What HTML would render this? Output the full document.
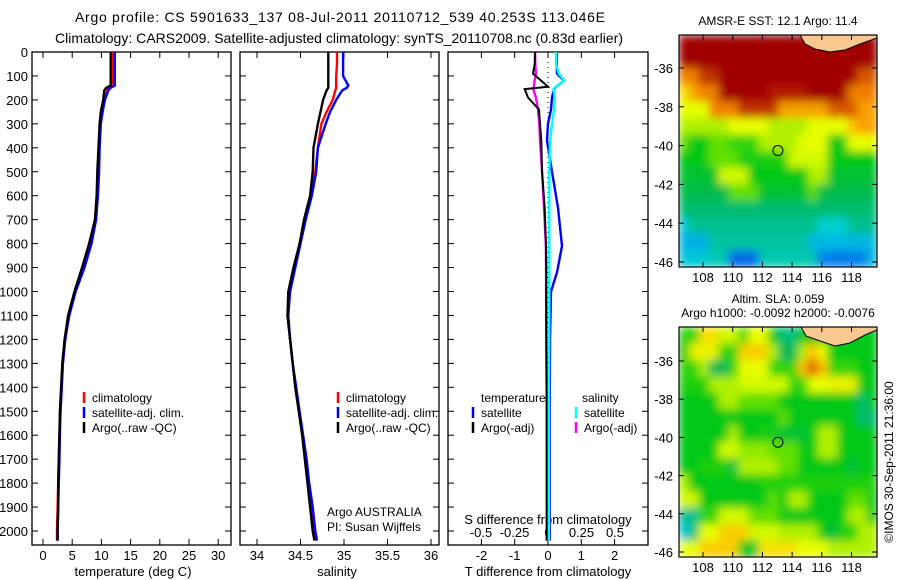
<!DOCTYPE html>
<html><head><meta charset="utf-8">
<style>
html,body{margin:0;padding:0;background:#fff;}
svg{display:block;font-family:"Liberation Sans",sans-serif;}
text{fill:#000;}
</style></head>
<body>
<svg id="fig" width="900" height="580" viewBox="0 0 900 580" xmlns="http://www.w3.org/2000/svg">
<defs>
<filter id="smooth" x="0" y="0" width="1" height="1"><feGaussianBlur stdDeviation="4.5" edgeMode="duplicate"/></filter>
<clipPath id="clipTop"><rect x="679" y="35" width="198" height="232"/></clipPath>
<clipPath id="clipBot"><rect x="679" y="327" width="198" height="230"/></clipPath>
</defs>
<text x="340" y="22" font-size="14" text-anchor="middle" textLength="530">Argo profile: CS 5901633_137 08-Jul-2011 20110712_539 40.253S 113.046E</text>
<text x="339" y="43" font-size="14" text-anchor="middle" textLength="568">Climatology: CARS2009. Satellite-adjusted climatology: synTS_20110708.nc (0.83d earlier)</text>
<g id="g"></g>
</svg>
<script>
// ---------- data ----------
const depthTS = [0,50,100,140,150,160,200,250,300,400,500,600,700,800,900,1000,1100,1200,1300,1400,1500,1600,1700,1800,1900,2000,2040];
const argoT = [11.6,11.6,11.6,11.6,10.8,10.5,10.3,9.9,9.7,9.5,9.3,9.2,8.9,7.9,6.7,5.4,4.3,3.7,3.3,3.1,2.9,2.8,2.7,2.6,2.6,2.5,2.5];
const climT = [12.0,12.0,12.0,12.0,11.4,11.0,10.5,10.0,9.8,9.6,9.4,9.2,8.9,8.0,6.9,5.5,4.4,3.8,3.4,3.2,3.0,2.8,2.7,2.6,2.5,2.4,2.4];
const satT = [12.3,12.3,12.3,12.3,11.6,11.2,10.6,10.2,9.9,9.7,9.6,9.4,9.1,8.3,7.1,5.6,4.5,3.8,3.4,3.2,3.0,2.9,2.8,2.7,2.6,2.5,2.5];
const argoS = [34.82,34.82,34.82,34.82,34.82,34.8,34.76,34.73,34.70,34.65,34.64,34.61,34.54,34.49,34.42,34.36,34.35,34.38,34.41,34.44,34.48,34.52,34.55,34.58,34.61,34.64,34.66];
const climS = [34.92,34.92,34.91,34.91,34.91,34.9,34.87,34.80,34.74,34.70,34.67,34.62,34.55,34.49,34.43,34.37,34.35,34.38,34.41,34.44,34.48,34.52,34.56,34.59,34.63,34.66,34.68];
const satS = [34.99,34.99,34.99,35.05,35.03,34.98,34.91,34.84,34.79,34.70,34.68,34.63,34.56,34.50,34.44,34.38,34.36,34.38,34.41,34.45,34.49,34.53,34.57,34.60,34.64,34.67,34.69];
const depthD = [0,50,90,120,145,155,190,240,300,370,500,650,810,920,1000,1200,1500,2040];
const dTsat = [0.26,0.26,0.27,0.48,0.25,0.18,0.12,0.09,0.0,-0.03,0.12,0.30,0.42,0.27,0.09,0.06,0.05,0.05];
const dTargo = [-0.39,-0.40,-0.45,-0.2,0.0,-0.70,-0.6,-0.27,-0.24,-0.2,-0.18,-0.1,-0.06,-0.05,-0.05,-0.05,-0.04,-0.04];
const dSsat = [0.06,0.06,0.08,0.12,0.06,0.04,0.05,0.045,0.03,0.015,0.01,0.01,0.01,0.01,0.01,0.008,0.007,0.007];
const dSargo = [-0.096,-0.095,-0.09,-0.1,-0.105,-0.11,-0.09,-0.075,-0.065,-0.06,-0.044,-0.03,-0.016,-0.014,-0.014,-0.012,-0.01,-0.008];
const depthTicks = [0,100,200,300,400,500,600,700,800,900,1000,1100,1200,1300,1400,1500,1600,1700,1800,1900,2000];
const tTicks = [0,5,10,15,20,25,30];
const sTicks = [34,34.5,35,35.5,36];
const dTTicks = [-2,-1,0,1,2];
const dSTicks = [-0.5,-0.25,0,0.25,0.5];
const dSTickLabels = ["-0.5","-0.25","0","0.25","0.5"];
const lonTicks = [108,110,112,114,116,118];
const latTicks = [-36,-38,-40,-42,-44,-46];
const argoLon = 113.046, argoLat = -40.253;
const sstGrid = [
[10,10,10,10,10,10,10,10,10,10,10,10,10,10,10,10,10,10,10,10],
[10,10,10,10,10,10,10,10,10,10,10,10,10,10,10,10,10,10,10,10],
[8,8,9,9,10,10,10,10,10,10,10,10,10,10,10,10,10,10,8.5,8.5],
[6.5,7.5,8,8,10,10,10,10,10,9.5,9.5,9.5,9.5,10,10,10,10,8,8,8],
[6,6,6,8,8,8,9,9,9,9,7.5,7.5,7.5,7.5,7.5,8.5,8.5,8.5,7.5,7.5],
[5.5,5.5,5.5,5.5,5.5,6,6,6,6,5.5,5.5,5.5,5.5,6,6,6,6,7,7.5,7.5],
[5,4,4,5,5,4.5,4.5,4.5,5.5,5.5,5.5,5.5,6,6,6,4,4,6,6,6],
[4,4,4,5,5,5,4.2,4.2,4.2,4.3,4.3,5.8,5.8,5.8,5.8,4,4,4,4,4],
[3.8,3.8,3.8,3.8,5.8,5.8,5.8,4,4,4,4,4,4,5.5,5.5,3.8,3.8,3.8,3.8,3.8],
[3.6,3.6,3.6,3.6,3.6,5,5,5,3.8,3.8,3.8,3.8,3.8,5,3.6,3.6,3.6,3.6,3.6,3.6],
[3.3,3.3,3.3,3.3,3.3,3.3,3.3,3.3,3.3,3.3,3.3,3.3,3.3,3.3,3.3,3.3,3.3,3.3,3.3,3.3],
[2.5,3,3,3,3,3,3,3,3,3,3,3,3,3,2.6,2.6,2.6,3,3,3],
[2.2,2.2,2.2,2.9,2.9,2.9,2.9,2.9,2.9,2.9,2.9,2.9,2.9,2.3,2.3,2.3,2.3,2.3,2.3,2.3],
[2.5,2.5,2.5,2.8,2.8,1.5,1.5,1.5,2.8,2.8,2.8,2.8,2.8,2.8,1.7,1.7,1.7,1.7,1.7,2.3]];
const slaGrid = [
[4.5,4.5,6.5,6.5,5.8,5.8,4.5,6,6,4,3.2,3.2,4,4,4,4,4,4,4,4],
[4,6.2,6.2,6.2,4.5,4.5,6.8,6.8,6.8,5.5,3.5,3.5,5.5,7,6,4,4,4,4,4],
[4.5,4.5,5.5,3.5,3.5,4.5,6,6,6,4.5,4.5,4.5,7,8.5,7,4.5,4.5,4.5,4,4],
[4.3,4.3,4.3,5.5,5.5,5.5,5.8,5.8,5.8,5.8,5.8,4.5,4.5,6,6,6.2,6.2,6.2,4,4],
[4,4,4,4,5.5,5.5,5,5,5,5,4,4,4,4,4,4,4,4,3.3,4],
[4,4,4,4,4,4,4,4,4,4,5,4,4,4,4,4,4,4,3.3,3.3],
[4,4,4,4,4,5.5,4,4,4.2,4.2,3.8,3.8,3.8,4,5.5,5.5,4,4,4,4],
[4,4,4,4,5.8,5.8,5.3,5.3,5.3,5,5,5,4,4,5.5,5.5,4,4,4,4],
[4,4,4.3,4.3,4.3,3.7,5.5,5.5,5.5,5.5,5,5,4,4,4,4,4,3.7,4,4],
[5.5,4,4,4,4,4,4,4,4.3,4.3,4.3,4.3,4.3,4.3,4.3,4.3,4.3,4.3,4.3,4.3],
[5.8,5.8,4,4,4,4,4,4,4,5,4,5.5,5.5,4,4,4,4,5,5,4],
[3,3,4.5,4.5,5.8,5.8,5.8,5,5,5,4,4,4,4,4,4,4,5.5,5.5,4],
[2.5,3.2,6,6,6.8,6.8,6.8,5.8,5.8,5.8,5.5,5.5,5.5,5.5,4,3.7,4.3,4.3,5.5,5.5],
[6,6,6.8,6.8,6.8,6.8,4,3.8,6.5,6.5,6.5,6.5,6,6,6,5.5,5.5,5.5,5.5,5.5]];

// ---------- helpers ----------
const NS = "http://www.w3.org/2000/svg";
const G = document.getElementById('g');
function mk(tag, attrs, parent){const e=document.createElementNS(NS,tag);for(const k in attrs)e.setAttribute(k,attrs[k]);(parent||G).appendChild(e);return e;}
function txt(x,y,s,size,anchor,parent){const t=mk('text',{x:x,y:y,'font-size':size||13,'text-anchor':anchor||'middle'},parent);t.textContent=s;return t;}
const TOP=52, BOT=545;
const yD = d => 52 + d*0.2395;
const xT = v => 43 + v*5.84;
const xS = v => 257 + (v-34)*87;
const xDT = v => 548 + v*33.3;
const xDS = v => 548 + v*134;
const panels=[[32,231],[240,439],[448,648]];

function panelFrame(i,name){
  const [l,r]=panels[i];
  const f=mk('rect',{x:l,y:TOP,width:r-l,height:BOT-TOP,fill:'none',stroke:'#000','stroke-width':1.3});
  
  
  depthTicks.forEach(d=>{const y=yD(d);mk('line',{x1:l,x2:l+6,y1:y,y2:y,stroke:'#000'});mk('line',{x1:r-6,x2:r,y1:y,y2:y,stroke:'#000'});});
}
function xTicks(xs,fn,l){xs.forEach(v=>{const x=fn(v);mk('line',{x1:x,x2:x,y1:TOP,y2:TOP+6,stroke:'#000'});mk('line',{x1:x,x2:x,y1:BOT-6,y2:BOT,stroke:'#000'});});}
function line(depths,vals,fn,color,name,w){
  const pts=depths.map((d,i)=>fn(vals[i]).toFixed(1)+','+yD(d).toFixed(1)).join(' ');
  const p=mk('polyline',{points:pts,fill:'none',stroke:color,'stroke-width':w||2.4,'stroke-linejoin':'miter'});
  
  
}
depthTicks.forEach(d=>{const t=txt(28,yD(d)+5,String(d),13,'end');});

// panel 1
panelFrame(0,'temperature-panel');
xTicks(tTicks,xT);
tTicks.forEach(v=>txt(xT(v),560,String(v)));
txt(133,576,'temperature (deg C)');
line(depthTS,climT,xT,'#f00','temp-climatology-line');
line(depthTS,satT,xT,'#00f','temp-satellite-line');
line(depthTS,argoT,xT,'#000','temp-argo-line');
function legend(x,y0,items,name){
  const g=mk('g',{});
  items.forEach((it,i)=>{const y=y0+i*15;mk('line',{x1:x,x2:x,y1:y-10,y2:y+1,stroke:it[1],'stroke-width':2.5},g);txt(x+8,y,it[0],12,'start',g);});
}
legend(84,402,[['climatology','#f00'],['satellite-adj. clim.','#00f'],['Argo(..raw -QC)','#000']],'temperature-legend');

// panel 2
panelFrame(1,'salinity-panel');
xTicks(sTicks,xS);
sTicks.forEach(v=>txt(xS(v),560,String(v)));
txt(337,576,'salinity');
line(depthTS,climS,xS,'#f00','sal-climatology-line');
line(depthTS,satS,xS,'#00f','sal-satellite-line');
line(depthTS,argoS,xS,'#000','sal-argo-line');
legend(338,402,[['climatology','#f00'],['satellite-adj. clim.','#00f'],['Argo(..raw -QC)','#000']],'salinity-legend');
txt(327,516,'Argo AUSTRALIA',12,'start');
txt(327,531,'PI: Susan Wijffels',12,'start');

// panel 3
panelFrame(2,'difference-panel');
xTicks(dTTicks,xDT);
dTTicks.forEach(v=>txt(xDT(v),560,String(v)));
txt(548,576,'T difference from climatology');
dSTicks.forEach((v,i)=>{txt(xDS(v),537,dSTickLabels[i]);});
txt(548,524,'S difference from climatology');
mk('line',{x1:548,x2:548,y1:TOP,y2:BOT,stroke:'#000','stroke-dasharray':'1,4','stroke-width':1});
line(depthD,dSargo,xDS,'#f0f','sdiff-argo-line');
line(depthD,dTargo,xDT,'#000','tdiff-argo-line',2);
line(depthD,dTsat,xDT,'#00f','tdiff-satellite-line');
line(depthD,dSsat,xDS,'#0ff','sdiff-satellite-line');
txt(481,402,'temperature',12,'start');
legend(473,417,[['satellite','#00f'],['Argo(-adj)','#000']],'tdiff-legend');
txt(582,402,'salinity',12,'start');
legend(576,417,[['satellite','#0ff'],['Argo(-adj)','#f0f']],'sdiff-legend');

// ---------- maps ----------
const stops=[[1,[0,48,224]],[2,[0,160,240]],[2.6,[0,208,208]],[3,[0,192,144]],[3.5,[0,184,88]],[4,[0,200,24]],[5,[96,224,0]],[5.5,[176,240,0]],[6,[232,255,0]],[7,[255,192,0]],[8,[240,128,0]],[9,[192,48,0]],[10,[160,0,0]]];
function cmap(v){if(v<=stops[0][0])return 'rgb('+stops[0][1]+')';for(let i=1;i<stops.length;i++){if(v<=stops[i][0]){const a=stops[i-1],b=stops[i],t=(v-a[0])/(b[0]-a[0]);return 'rgb('+a[1].map((c,k)=>Math.round(c+(b[1][k]-c)*t)).join(',')+')';}}return 'rgb(160,0,0)';}
function drawMap(grid,L,R,T,B,lat36y,lat46y,name,landPts,clipId){
  const lonX=lo=>703+(lo-108)*14.85;
  const latY=la=>lat36y+(-36-la)*(lat46y-lat36y)/10;
  const g=mk('g',{});
  const cg=mk('g',{'clip-path':'url(#'+clipId+')'},g);
  const cells=mk('g',{filter:'url(#smooth)'},cg);
  const nr=grid.length,nc=grid[0].length,cw=(R-L)/nc,ch=(B-T)/nr;
  grid.forEach((row,r)=>row.forEach((v,c)=>{const e=mk('rect',{x:(L+c*cw).toFixed(2),y:(T+r*ch).toFixed(2),width:(cw+0.6).toFixed(2),height:(ch+0.6).toFixed(2),fill:cmap(v)},cells);}));
  const land=mk('polygon',{points:landPts,fill:'#f8c890',stroke:'#000','stroke-width':1},g);
  
  mk('rect',{x:L,y:T,width:R-L,height:B-T,fill:'none',stroke:'#000','stroke-width':1.2},g);
  lonTicks.forEach(v=>{const x=lonX(v);mk('line',{x1:x,x2:x,y1:T,y2:T+5,stroke:'#000'},g);mk('line',{x1:x,x2:x,y1:B-5,y2:B,stroke:'#000'},g);txt(x,B+15,String(v),13,'middle',g);});
  latTicks.forEach(v=>{const y=latY(v);mk('line',{x1:L,x2:L+5,y1:y,y2:y,stroke:'#000'},g);mk('line',{x1:R-5,x2:R,y1:y,y2:y,stroke:'#000'},g);txt(L-6,y+5,String(v),13,'end',g);});
  const c=mk('circle',{cx:lonX(argoLon),cy:latY(argoLat),r:5,fill:'none',stroke:'#000','stroke-width':1},g);
  
}
drawMap(sstGrid,679,877,35,267,68,262,'sst-map','800,35 805,44 815,49 830,52 845,50 860,44 877,38 877,35','clipTop');
txt(778,25,'AMSR-E SST: 12.1  Argo: 11.4',12);
drawMap(slaGrid,679,877,327,557,361,552,'sla-map','801,327 806,336 820,341 835,346 850,343 865,335 877,330 877,327','clipBot');
txt(778,303,'Altim. SLA: 0.059',12);
txt(778,317,'Argo h1000: -0.0092  h2000: -0.0076',12);
const cr=txt(893,462,'©IMOS 30-Sep-2011 21:36:00',12);
cr.setAttribute('transform','rotate(-90 893 462)');


</script>
</body></html>
